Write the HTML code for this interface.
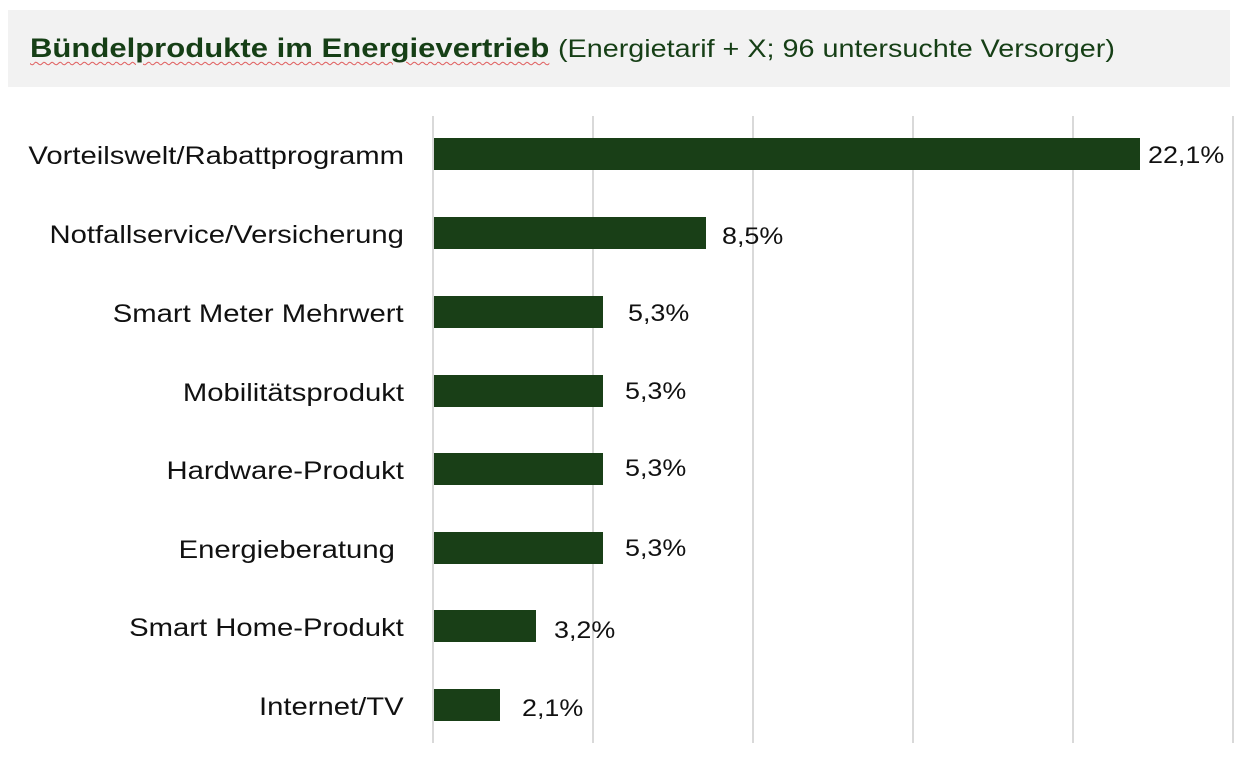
<!DOCTYPE html>
<html><head><meta charset="utf-8"><style>
body{margin:0;width:1257px;height:759px;background:#fff;position:relative;overflow:hidden;font-family:"Liberation Sans",sans-serif}
.hdr{position:absolute;left:8px;top:10px;width:1222px;height:77px;background:#f2f2f2}
.t{position:absolute;left:30px;top:33px;font-size:27px;color:#163f16;white-space:nowrap;transform:scaleX(1.15);transform-origin:left}
.t b{text-decoration:underline wavy #e06060 1px;text-underline-offset:4px}
.g{position:absolute;top:116px;height:627px;width:2px;background:#d9d9d9}
.bar{position:absolute;left:434px;height:32px;background:#193f17}
.lab{position:absolute;right:853px;font-size:25px;color:#111;white-space:nowrap;transform:scaleX(1.17);transform-origin:right;margin-top:3px}
.v{position:absolute;font-size:24px;color:#111;transform:scaleX(1.12);transform-origin:left;margin-top:2px}
</style></head><body>
<div class="hdr"></div>
<div class="t"><b>Bündelprodukte im Energievertrieb</b> <span style="font-size:25px">(Energietarif + X; 96 untersuchte Versorger)</span></div>
<div class="g" style="left:432px"></div><div class="g" style="left:592px"></div><div class="g" style="left:752px"></div><div class="g" style="left:912px"></div><div class="g" style="left:1072px"></div><div class="g" style="left:1232px"></div>

<div class="bar" style="top:138px;width:706px"></div><div class="lab" style="top:139px">Vorteilswelt/Rabattprogramm</div><div class="v" style="left:1148px;top:140px">22,1%</div>
<div class="bar" style="top:217px;width:272px"></div><div class="lab" style="top:218px">Notfallservice/Versicherung</div><div class="v" style="left:722px;top:221px">8,5%</div>
<div class="bar" style="top:296px;width:169px"></div><div class="lab" style="top:297px">Smart Meter Mehrwert</div><div class="v" style="left:628px;top:298px">5,3%</div>
<div class="bar" style="top:375px;width:169px"></div><div class="lab" style="top:376px">Mobilitätsprodukt</div><div class="v" style="left:625px;top:376px">5,3%</div>
<div class="bar" style="top:453px;width:169px"></div><div class="lab" style="top:454px">Hardware-Produkt</div><div class="v" style="left:625px;top:453px">5,3%</div>
<div class="bar" style="top:532px;width:169px"></div><div class="lab" style="top:533px;right:862px">Energieberatung</div><div class="v" style="left:625px;top:533px">5,3%</div>
<div class="bar" style="top:610px;width:102px"></div><div class="lab" style="top:611px">Smart Home-Produkt</div><div class="v" style="left:554px;top:615px">3,2%</div>
<div class="bar" style="top:689px;width:66px"></div><div class="lab" style="top:690px">Internet/TV</div><div class="v" style="left:522px;top:693px">2,1%</div>
</body></html>
